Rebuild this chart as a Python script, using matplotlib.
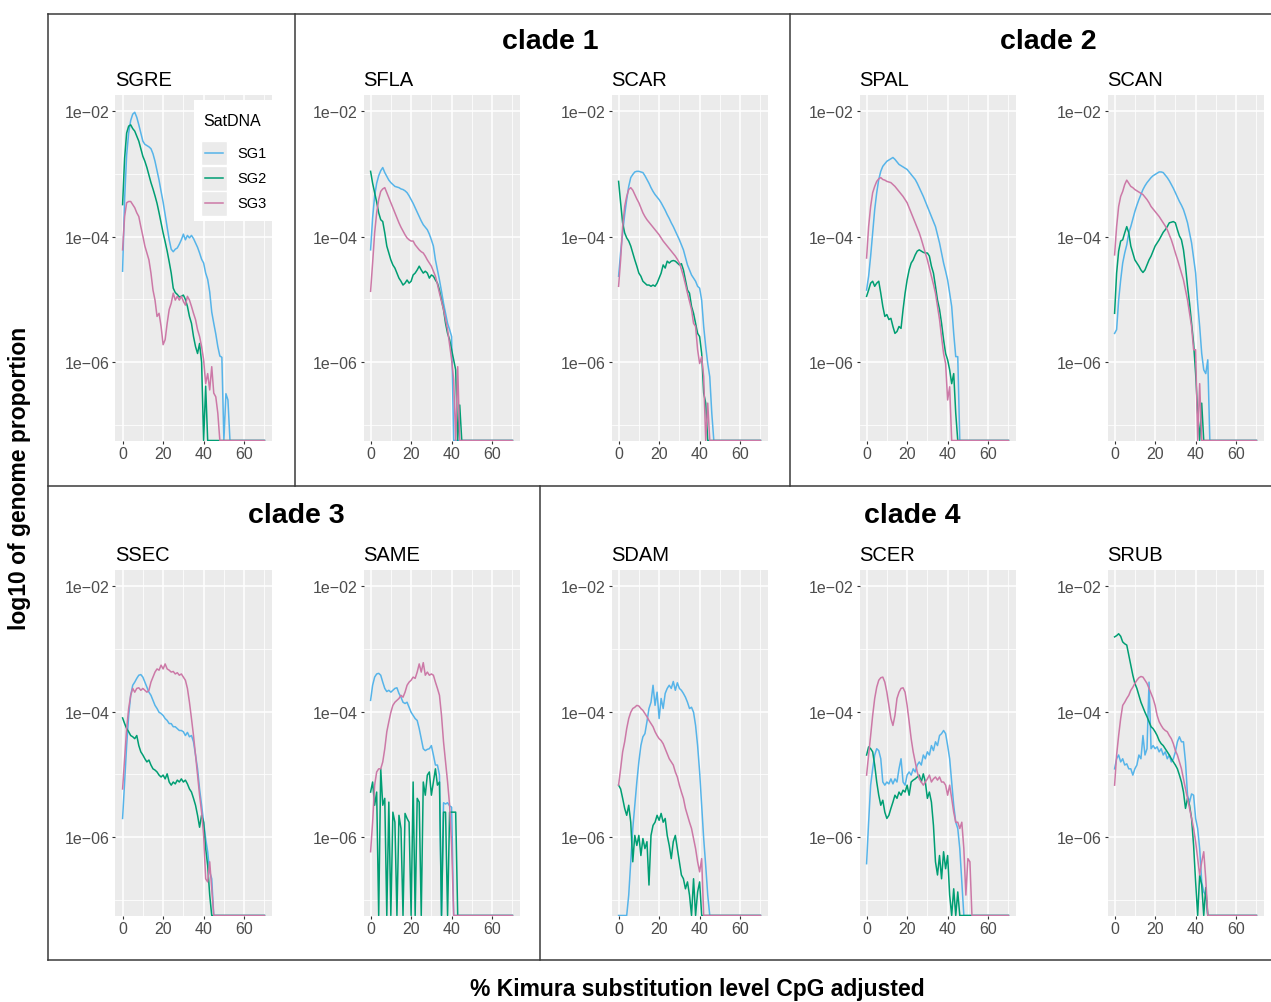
"""Satellite DNA landscapes: log10 genome proportion vs Kimura divergence,
one panel per species, grouped by clade."""

import matplotlib.pyplot as plt
import numpy as np
from matplotlib.lines import Line2D
from matplotlib.patches import Rectangle
from matplotlib.ticker import FixedLocator, NullFormatter

plt.rcParams["font.family"] = ["Liberation Sans", "DejaVu Sans"]

W, H = 1271, 1003

# Kimura divergence bins (%), 0..70
X = np.arange(0, 71)
Z = None  # bin with zero proportion (drawn at the panel floor)

SERIES = ["SG1", "SG2", "SG3"]
COLORS = {"SG1": "#56B4E9", "SG2": "#009E73", "SG3": "#CC79A7"}

# log10 of genome proportion, one value per 1% bin; bins not listed are zero
SGRE_SG1 = [-4.55, -3.40, -2.70, -2.35, -2.15, -2.05, -2.02, -2.10, -2.22, -2.35,
            -2.48, -2.53, -2.55, -2.57, -2.60, -2.68, -2.80, -2.95, -3.10, -3.28,
            -3.45, -3.65, -3.85, -4.05, -4.20, -4.24, -4.20, -4.18, -4.12, -4.05,
            -3.96, -4.05, -3.98, -4.02, -3.98, -4.03, -4.10, -4.17, -4.26, -4.36,
            -4.42, -4.58, -4.68, -4.88, -5.20, -5.38, -5.55, -5.75, -5.90, -5.92,
            Z, -6.50, -6.60]
SGRE_SG2 = [-3.49, -2.75, -2.35, -2.24, -2.22, -2.28, -2.32, -2.40, -2.48, -2.60,
            -2.72, -2.80, -2.90, -3.02, -3.14, -3.24, -3.35, -3.47, -3.62, -3.78,
            -3.94, -4.08, -4.23, -4.40, -4.58, -4.82, -4.89, -4.92, -4.96, -4.95,
            -4.93, -5.00, -5.11, -5.27, -5.38, -5.59, -5.75, -5.86, -5.70, -6.00,
            Z, -6.38]
SGRE_SG3 = [-4.21, -3.68, -3.46, -3.44, -3.44, -3.49, -3.54, -3.62, -3.68, -3.84,
            -3.99, -4.15, -4.26, -4.37, -4.58, -4.85, -5.01, -5.27, -5.22, -5.43,
            -5.72, -5.64, -5.38, -5.16, -5.06, -4.90, -5.01, -4.95, -5.01, -4.95,
            -5.03, -5.09, -4.95, -5.01, -5.11, -5.22, -5.32, -5.48, -5.59, -5.75,
            -5.96, -6.34, -6.18, -6.44, -6.07, -6.49, -6.55, -6.81]

SFLA_SG1 = [-4.21, -3.70, -3.35, -3.15, -3.03, -2.95, -2.90, -2.98, -3.04, -3.10,
            -3.14, -3.17, -3.20, -3.21, -3.22, -3.24, -3.25, -3.27, -3.30, -3.35,
            -3.41, -3.47, -3.54, -3.61, -3.68, -3.75, -3.81, -3.85, -3.89, -3.96,
            -4.05, -4.15, -4.37, -4.53, -4.69, -4.87, -5.06, -5.22, -5.38, -5.48,
            -5.59]
SFLA_SG2 = [-2.96, -3.15, -3.30, -3.45, -3.62, -3.73, -3.76, -3.94, -4.15, -4.26,
            -4.37, -4.45, -4.50, -4.58, -4.66, -4.71, -4.77, -4.74, -4.69, -4.74,
            -4.71, -4.61, -4.58, -4.53, -4.47, -4.53, -4.58, -4.55, -4.58, -4.66,
            -4.61, -4.63, -4.69, -4.74, -4.85, -5.01, -5.16, -5.38, -5.54, -5.64,
            -5.80, -5.96, -6.12, Z, -6.68]
SFLA_SG3 = [-4.87, -4.42, -3.94, -3.62, -3.41, -3.28, -3.24, -3.22, -3.30, -3.38,
            -3.46, -3.54, -3.62, -3.70, -3.78, -3.85, -3.91, -3.97, -4.02, -4.05,
            -4.07, -4.07, -4.13, -4.17, -4.21, -4.24, -4.26, -4.31, -4.37, -4.42,
            -4.47, -4.55, -4.63, -4.76, -4.90, -5.03, -5.16, -5.32, -5.48, -5.72,
            -5.96, -6.28, Z, -6.07]

SCAR_SG1 = [-4.63, -4.25, -3.94, -3.65, -3.41, -3.20, -3.06, -3.01, -2.97, -2.96,
            -2.96, -2.97, -2.98, -3.03, -3.09, -3.15, -3.22, -3.28, -3.33, -3.37,
            -3.41, -3.46, -3.52, -3.58, -3.65, -3.71, -3.78, -3.84, -3.91, -3.98,
            -4.05, -4.13, -4.21, -4.33, -4.45, -4.53, -4.61, -4.66, -4.71, -4.79,
            -4.82, -5.01, -5.43, -5.75, -6.02, -6.23, -6.81]
SCAR_SG2 = [-3.12, -3.46, -3.78, -3.94, -4.02, -4.07, -4.15, -4.26, -4.37, -4.47,
            -4.58, -4.63, -4.71, -4.74, -4.77, -4.77, -4.79, -4.77, -4.79, -4.74,
            -4.66, -4.58, -4.45, -4.50, -4.39, -4.42, -4.39, -4.38, -4.39, -4.42,
            -4.45, -4.43, -4.53, -4.69, -4.85, -4.90, -5.11, -5.22, -5.38, -5.54,
            -5.59, -5.86, -6.49, -6.65]
SCAR_SG3 = [-4.79, -4.37, -3.84, -3.52, -3.36, -3.25, -3.22, -3.26, -3.33, -3.40,
            -3.46, -3.54, -3.62, -3.68, -3.73, -3.77, -3.81, -3.85, -3.89, -3.93,
            -3.97, -4.02, -4.07, -4.11, -4.15, -4.19, -4.23, -4.27, -4.31, -4.36,
            -4.42, -4.52, -4.63, -4.76, -4.90, -5.03, -5.16, -5.38, -5.43, -5.80,
            -6.02, -5.91, -6.23, Z, -6.65]

SPAL_SG1 = [-4.85, -4.63, -4.31, -3.94, -3.57, -3.30, -3.09, -2.96, -2.88, -2.84,
            -2.80, -2.78, -2.76, -2.74, -2.77, -2.81, -2.85, -2.87, -2.89, -2.91,
            -2.93, -2.97, -3.01, -3.05, -3.09, -3.15, -3.22, -3.29, -3.36, -3.44,
            -3.52, -3.60, -3.68, -3.76, -3.84, -3.97, -4.10, -4.26, -4.42, -4.55,
            -4.69, -4.90, -5.11, -5.54, -5.91, -5.91]
SPAL_SG2 = [-4.95, -4.85, -4.74, -4.71, -4.79, -4.74, -4.71, -4.90, -5.11, -5.27,
            -5.24, -5.32, -5.30, -5.43, -5.54, -5.51, -5.43, -5.46, -5.16, -4.90,
            -4.69, -4.53, -4.42, -4.37, -4.29, -4.23, -4.21, -4.23, -4.25, -4.26,
            -4.26, -4.31, -4.47, -4.58, -4.79, -5.01, -5.16, -5.38, -5.64, -5.86,
            -5.96, -6.12, -6.34, -6.18, -6.81]
SPAL_SG3 = [-4.34, -3.84, -3.52, -3.30, -3.20, -3.12, -3.08, -3.06, -3.09, -3.10,
            -3.12, -3.13, -3.14, -3.17, -3.20, -3.24, -3.28, -3.32, -3.36, -3.41,
            -3.46, -3.54, -3.62, -3.70, -3.78, -3.86, -3.94, -4.04, -4.15, -4.26,
            -4.37, -4.50, -4.63, -4.76, -4.90, -5.11, -5.32, -5.60, -5.86, -6.02,
            -6.60, -6.39]

SCAN_SG1 = [-5.54, -5.48, -5.01, -4.69, -4.42, -4.26, -4.13, -3.94, -3.84, -3.72,
            -3.60, -3.50, -3.41, -3.33, -3.25, -3.19, -3.14, -3.10, -3.06, -3.03,
            -3.01, -2.99, -2.97, -2.97, -2.98, -3.02, -3.06, -3.11, -3.17, -3.23,
            -3.30, -3.37, -3.44, -3.50, -3.57, -3.67, -3.78, -3.94, -4.10, -4.34,
            -4.58, -5.06, -5.43, -5.86, -6.12, -6.18, -5.96]
SCAN_SG2 = [-5.22, -4.58, -4.23, -4.07, -4.05, -3.94, -3.84, -3.94, -4.15, -4.26,
            -4.37, -4.42, -4.47, -4.53, -4.57, -4.53, -4.45, -4.37, -4.31, -4.23,
            -4.15, -4.10, -4.05, -3.99, -3.93, -3.89, -3.84, -3.78, -3.77, -3.76,
            -3.78, -3.89, -3.99, -4.05, -4.21, -4.47, -4.79, -5.06, -5.38, -5.70,
            -6.18, -6.81, Z, -6.65]
SCAN_SG3 = [-4.29, -3.84, -3.52, -3.36, -3.28, -3.17, -3.10, -3.15, -3.20, -3.22,
            -3.25, -3.27, -3.29, -3.31, -3.33, -3.37, -3.41, -3.46, -3.52, -3.56,
            -3.60, -3.64, -3.68, -3.73, -3.78, -3.83, -3.89, -3.97, -4.05, -4.15,
            -4.26, -4.36, -4.47, -4.58, -4.69, -4.85, -5.01, -5.22, -5.43, -5.80,
            -5.80, Z, -6.34]

SSEC_SG1 = [-5.70, -5.12, -4.54, -4.06, -3.74, -3.58, -3.53, -3.47, -3.42, -3.41,
            -3.45, -3.53, -3.61, -3.69, -3.74, -3.82, -3.90, -3.95, -4.01, -4.03,
            -4.06, -4.11, -4.14, -4.19, -4.19, -4.24, -4.24, -4.27, -4.30, -4.30,
            -4.32, -4.38, -4.33, -4.40, -4.38, -4.48, -4.69, -4.91, -5.23, -5.49,
            -5.76, -6.02, -6.23, -6.55, -6.66]
SSEC_SG2 = [-4.10, -4.19, -4.27, -4.32, -4.38, -4.40, -4.43, -4.38, -4.54, -4.64,
            -4.69, -4.75, -4.80, -4.77, -4.85, -4.91, -4.93, -4.96, -5.01, -5.04,
            -5.01, -5.07, -4.99, -5.12, -5.17, -5.12, -5.15, -5.09, -5.12, -5.07,
            -5.12, -5.09, -5.15, -5.23, -5.28, -5.38, -5.49, -5.65, -5.84, -5.65,
            -5.76, -6.18, -6.45, -6.92]
SSEC_SG3 = [-5.23, -4.75, -4.27, -3.95, -3.74, -3.63, -3.69, -3.63, -3.62, -3.66,
            -3.63, -3.66, -3.69, -3.66, -3.53, -3.45, -3.37, -3.32, -3.34, -3.26,
            -3.32, -3.24, -3.32, -3.34, -3.37, -3.36, -3.40, -3.38, -3.42, -3.40,
            -3.45, -3.50, -3.63, -3.85, -4.11, -4.38, -4.69, -5.01, -5.33, -5.60,
            -5.97, -6.66, -6.71, -6.39, -6.82]

SAME_SG1 = [-3.82, -3.58, -3.45, -3.40, -3.39, -3.42, -3.53, -3.63, -3.68, -3.66,
            -3.69, -3.66, -3.63, -3.62, -3.71, -3.77, -3.85, -3.87, -3.85, -3.93,
            -4.01, -4.06, -4.11, -4.14, -4.27, -4.43, -4.59, -4.62, -4.60, -4.59,
            -4.54, -4.69, -4.85, -4.85, -5.01, Z, -5.45, -5.47, -5.45, -5.50,
            -5.52]
SAME_SG2 = [-5.28, -5.12, -5.49, -5.28, Z, -4.91, -5.49, -5.38, Z, -5.44,
            Z, -5.60, -5.76, Z, -5.65, -5.86, Z, -5.62, -5.70, -5.76,
            Z, -5.12, Z, -5.38, -5.44, Z, -5.12, -5.33, -5.01, -4.96,
            -5.33, -5.12, -4.91, -5.17, -5.12, Z, -5.60, -5.60, Z, -5.60,
            -5.60, -5.60, -5.60]
SAME_SG3 = [-6.23, -5.76, -5.17, -4.96, -4.91, -4.91, -4.80, -4.59, -4.32, -4.16,
            -4.01, -3.90, -3.85, -3.82, -3.79, -3.74, -3.77, -3.69, -3.58, -3.53,
            -3.50, -3.45, -3.47, -3.37, -3.24, -3.37, -3.22, -3.42, -3.37, -3.42,
            -3.40, -3.42, -3.53, -3.63, -3.74, -4.06, -4.48, -4.80, -5.12, -5.49,
            -6.13]

SDAM_SG1 = [Z, Z, Z, Z, Z, -6.92, -6.39, -5.86, -5.49, -5.12,
            -4.80, -4.54, -4.40, -4.35, -4.16, -3.95, -3.85, -3.58, -3.90, -3.69,
            -4.11, -3.79, -3.95, -3.71, -3.63, -3.58, -3.63, -3.52, -3.66, -3.54,
            -3.63, -3.66, -3.71, -3.77, -3.85, -3.95, -3.93, -4.01, -4.22, -4.54,
            -4.96, -5.49, -6.02, -6.45, -6.92]
SDAM_SG2 = [-5.17, -5.23, -5.38, -5.54, -5.65, -5.49, -5.76, -6.39, -5.97, -6.13,
            -5.97, -6.29, -6.02, -6.18, -6.07, -6.76, -5.97, -5.81, -5.76, -5.65,
            -5.73, -5.62, -5.76, -5.70, -5.97, -6.13, -6.34, -6.07, -5.97, -6.18,
            -6.39, -6.60, -6.66, -6.82, -6.71, -6.92, Z, -6.66, Z, -6.87,
            -6.71]
SDAM_SG3 = [-5.17, -4.91, -4.64, -4.48, -4.27, -4.11, -4.01, -3.95, -3.93, -3.90,
            -3.91, -3.95, -3.98, -4.03, -4.08, -4.14, -4.19, -4.24, -4.32, -4.38,
            -4.43, -4.46, -4.51, -4.59, -4.67, -4.75, -4.80, -4.85, -4.96, -5.04,
            -5.17, -5.28, -5.38, -5.54, -5.65, -5.76, -5.86, -6.02, -6.18, -6.39,
            -6.55, -6.34]

SCER_SG1 = [-6.42, -5.76, -5.17, -4.91, -4.69, -4.59, -4.62, -4.75, -5.12, -5.17,
            -5.12, -5.15, -5.07, -5.15, -5.07, -5.12, -4.91, -4.75, -5.12, -5.17,
            -5.01, -4.96, -5.01, -4.91, -4.96, -4.85, -4.80, -4.85, -4.69, -4.75,
            -4.64, -4.69, -4.54, -4.62, -4.48, -4.54, -4.38, -4.35, -4.30, -4.35,
            -4.54, -4.75, -5.12, -5.49, -5.76, -5.86, -6.18, -6.71]
SCER_SG2 = [-4.69, -4.56, -4.59, -4.64, -4.85, -5.12, -5.33, -5.49, -5.41, -5.60,
            -5.70, -5.65, -5.54, -5.44, -5.33, -5.38, -5.28, -5.33, -5.25, -5.28,
            -5.17, -5.33, -5.12, -5.09, -5.07, -5.04, -5.01, -5.12, -4.99, -5.12,
            -5.38, -5.28, -5.44, -5.81, -6.39, -6.60, -6.29, -6.66, -6.23, -6.50,
            -6.29, -6.92, Z, -6.82, Z, -6.87]
SCER_SG3 = [-5.01, -4.69, -4.38, -4.06, -3.79, -3.61, -3.50, -3.46, -3.45, -3.53,
            -3.69, -3.90, -4.11, -4.22, -4.06, -3.79, -3.69, -3.63, -3.62, -3.69,
            -3.90, -4.16, -4.43, -4.64, -4.80, -4.96, -5.07, -5.12, -5.17, -5.12,
            -5.07, -5.01, -5.12, -5.07, -5.04, -5.09, -5.04, -5.12, -5.12, -5.17,
            -5.33, -5.17, -5.38, -5.60, -5.76, -5.76, -5.86, -5.76, -6.18, -6.92,
            -6.34, -6.39]

SRUB_SG1 = [-4.91, -4.75, -4.69, -4.80, -4.75, -4.85, -4.83, -4.91, -4.91, -5.01,
            -4.91, -4.85, -4.69, -4.75, -4.38, -4.69, -4.59, -3.53, -4.59, -4.54,
            -4.59, -4.56, -4.64, -4.59, -4.69, -4.64, -4.75, -4.69, -4.80, -4.75,
            -4.64, -4.48, -4.40, -4.48, -4.48, -4.80, -5.33, -5.44, -5.31, -5.33,
            -5.70, -5.86, -6.18, -6.71, -6.87, -6.92]
SRUB_SG2 = [-2.81, -2.79, -2.76, -2.80, -2.89, -2.92, -2.94, -3.10, -3.26, -3.42,
            -3.55, -3.63, -3.74, -3.85, -3.93, -4.01, -4.08, -4.16, -4.24, -4.27,
            -4.32, -4.38, -4.46, -4.51, -4.54, -4.59, -4.64, -4.69, -4.75, -4.80,
            -4.85, -4.91, -5.01, -5.12, -5.28, -5.54, -5.38, -5.49, -5.70, -6.13,
            -6.71, Z, -6.60, -6.76, Z, -6.80]
SRUB_SG3 = [-5.17, -4.69, -4.38, -4.11, -3.90, -3.85, -3.79, -3.74, -3.66, -3.61,
            -3.55, -3.50, -3.46, -3.44, -3.45, -3.50, -3.55, -3.63, -3.71, -3.79,
            -3.90, -4.06, -4.16, -4.22, -4.27, -4.30, -4.32, -4.38, -4.43, -4.51,
            -4.62, -4.69, -4.80, -4.91, -5.07, -5.23, -5.38, -5.54, -5.70, -5.86,
            -6.07, -6.34, -6.60, -6.39, -6.23, -6.66]

# (species, row, column, [SG1, SG2, SG3])
PANELS = [
    ("SGRE", 0, 0, [SGRE_SG1, SGRE_SG2, SGRE_SG3]),
    ("SFLA", 0, 1, [SFLA_SG1, SFLA_SG2, SFLA_SG3]),
    ("SCAR", 0, 2, [SCAR_SG1, SCAR_SG2, SCAR_SG3]),
    ("SPAL", 0, 3, [SPAL_SG1, SPAL_SG2, SPAL_SG3]),
    ("SCAN", 0, 4, [SCAN_SG1, SCAN_SG2, SCAN_SG3]),
    ("SSEC", 1, 0, [SSEC_SG1, SSEC_SG2, SSEC_SG3]),
    ("SAME", 1, 1, [SAME_SG1, SAME_SG2, SAME_SG3]),
    ("SDAM", 1, 2, [SDAM_SG1, SDAM_SG2, SDAM_SG3]),
    ("SCER", 1, 3, [SCER_SG1, SCER_SG2, SCER_SG3]),
    ("SRUB", 1, 4, [SRUB_SG1, SRUB_SG2, SRUB_SG3]),
]

# clade label -> centre position (px)
CLADES = [("clade 1", 550, 42), ("clade 2", 1048, 42),
          ("clade 3", 296, 516), ("clade 4", 912, 516)]

Y_LOW, Y_HIGH = 10 ** -7.245, 10 ** -1.745

# layout in pixels
COL_LEFT = [115.5, 363.5, 611.5, 859.5, 1107.5]
ROW_TOP = [96, 571]
PANEL_W, PANEL_H = 156, 345.5


def px_axes(fig, left, top, width, height):
    return fig.add_axes([left / W, 1 - (top + height) / H, width / W, height / H])


def px_line(fig, x0, y0, x1, y1):
    fig.add_artist(Line2D([x0 / W, x1 / W], [1 - y0 / H, 1 - y1 / H],
                          transform=fig.transFigure, color="#3a3a3a", lw=1.1))


def to_values(logs):
    """log10 list -> proportions on the full 0..70 grid; zeros sit on the floor."""
    vals = [Y_LOW if v is None else 10 ** v for v in logs]
    vals += [Y_LOW] * (len(X) - len(vals))
    return np.array(vals)


def style_panel(ax):
    ax.set_facecolor("#EBEBEB")
    for s in ax.spines.values():
        s.set_visible(False)
    ax.set_yscale("log")
    ax.set_xlim(-3.5, 73.5)
    ax.set_ylim(Y_LOW, Y_HIGH)
    ax.set_xticks([0, 20, 40, 60])
    ax.xaxis.set_minor_locator(FixedLocator([10, 30, 50, 70]))
    ax.set_yticks([1e-2, 1e-4, 1e-6])
    ax.set_yticklabels(["1e\u221202", "1e\u221204", "1e\u221206"])
    ax.yaxis.set_minor_locator(FixedLocator([1e-3, 1e-5, 1e-7]))
    ax.yaxis.set_minor_formatter(NullFormatter())
    ax.tick_params(which="major", length=2.5, width=0.8, color="#333333",
                   labelcolor="#4D4D4D", labelsize=11.5, pad=1.5)
    ax.tick_params(which="minor", length=0)
    ax.grid(which="major", color="white", lw=1.1)
    ax.grid(which="minor", color="white", lw=0.55)
    ax.set_axisbelow(True)


def add_legend(ax):
    tr = ax.transAxes
    ax.add_patch(Rectangle((0.50, 0.635), 0.50, 0.35, transform=tr,
                           facecolor="white", edgecolor="none", zorder=5))
    ax.text(0.565, 0.925, "SatDNA", transform=tr, fontsize=11.5,
            va="center", ha="left", zorder=6)
    for i, name in enumerate(SERIES):
        yc = 0.832 - i * 0.073
        ax.add_patch(Rectangle((0.55, yc - 0.036), 0.165, 0.072, transform=tr,
                               facecolor="#EBEBEB", edgecolor="white", lw=1,
                               zorder=6))
        ax.add_line(Line2D([0.575, 0.69], [yc, yc], transform=tr,
                           color=COLORS[name], lw=1.1, zorder=7))
        ax.text(0.78, yc, name, transform=tr, fontsize=10.5,
                va="center", ha="left", zorder=7)


fig = plt.figure(figsize=(W / 100, H / 100), dpi=100)

for species, row, col, series in PANELS:
    ax = px_axes(fig, COL_LEFT[col], ROW_TOP[row], PANEL_W, PANEL_H)
    style_panel(ax)
    for name, logs in zip(SERIES, series):
        ax.plot(X, to_values(logs), color=COLORS[name], lw=1.1)
    ax.set_title(species, loc="left", fontsize=14.5, pad=7)
    if species == "SGRE":
        add_legend(ax)

for label, cx, cy in CLADES:
    fig.text(cx / W, 1 - cy / H, label, fontsize=20.5, fontweight="bold",
             ha="center", va="center")

# clade boxes
px_line(fig, 48, 15, W, 15)
px_line(fig, 48, 15, 48, 961)
px_line(fig, 48, 487, W, 487)
px_line(fig, 48, 961, W, 961)
px_line(fig, 295, 15, 295, 487)
px_line(fig, 790, 15, 790, 487)
px_line(fig, 540, 487, 540, 961)

fig.text(20 / W, 1 - 478 / H, "log10 of genome proportion", rotation=90,
         fontsize=16.5, fontweight="bold", ha="center", va="center")
fig.text(697 / W, 1 - 990 / H, "% Kimura substitution level CpG adjusted",
         fontsize=16.5, fontweight="bold", ha="center", va="center")

fig.savefig("out.png", dpi=100)
